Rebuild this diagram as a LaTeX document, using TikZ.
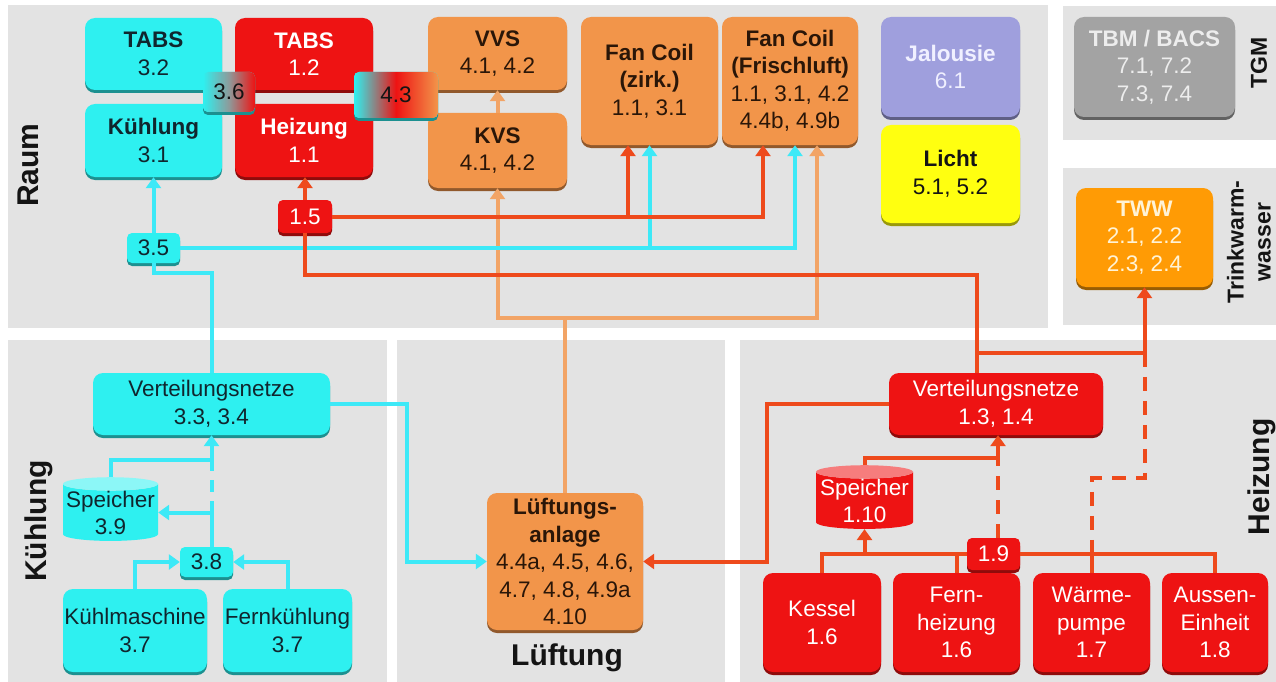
\documentclass[tikz,border=0pt]{standalone}
\usepackage{fontspec}
\setmainfont{Liberation Sans}
\usetikzlibrary{arrows.meta,shapes.geometric,shadows,calc}
\definecolor{ink}{HTML}{141414}
\definecolor{inkC}{HTML}{10262E}
\definecolor{inkV}{HTML}{2A1608}
\definecolor{panelG}{HTML}{E3E3E3}
\definecolor{cool}{HTML}{2EF0F0}
\definecolor{coolLine}{HTML}{3DE9F7}
\definecolor{heat}{HTML}{EE1313}
\definecolor{heatLine}{HTML}{EE4A1C}
\definecolor{vent}{HTML}{F2954A}
\definecolor{ventLine}{HTML}{F2A466}
\definecolor{tww}{HTML}{FF9B05}
\definecolor{twwT}{HTML}{FFF3D6}
\definecolor{jal}{HTML}{9F9FDD}
\definecolor{jalT}{HTML}{F0F0FF}
\definecolor{licht}{HTML}{FFFF10}
\definecolor{tgm}{HTML}{A3A3A3}
\definecolor{tgmT}{HTML}{EDEDED}
\definecolor{mixGrey}{HTML}{8E9A9A}
\tikzset{
  panel/.style={fill=panelG},
  blk/.style={fill=#1, rounded corners=10pt, inner sep=0pt, align=center,
    general shadow={fill=#1!60!black, shadow yshift=-3pt},
    font=\fontsize{22.5}{27.5}\selectfont},
  tag/.style={blk=#1, rounded corners=5pt},
  sz/.style 2 args={minimum width=#1, minimum height=#2},
  cyl/.style={cylinder, shape border rotate=90, aspect=0.15, cylinder uses custom fill,
    cylinder body fill=#1, cylinder end fill=#1!55!white, inner sep=0pt, align=center,
    font=\fontsize{22.5}{27}\selectfont},
  coolflow/.style={draw=coolLine, line width=4pt},
  heatflow/.style={draw=heatLine, line width=4pt},
  ventflow/.style={draw=ventLine, line width=4pt},
  heatdash/.style={dash pattern=on 14pt off 10pt},
  headed/.style={-{Triangle[length=11pt,width=15pt]}},
  side/.style={font=\fontsize{30}{34}\selectfont\bfseries, text=ink, inner sep=0pt},
  sidesm/.style={font=\fontsize{23}{27}\selectfont\bfseries, text=ink, inner sep=0pt},
}
\begin{document}
\begin{tikzpicture}[x=1pt, y=-1pt]
  \useasboundingbox[fill=white] (0,0) rectangle (1276,682);
  \fill[panel] (8,5) rectangle (1048,328);
  \fill[panel] (1063,6) rectangle (1276,140);
  \fill[panel] (1063,168) rectangle (1276,325);
  \fill[panel] (8,340) rectangle (387,682);
  \fill[panel] (397,340) rectangle (725,682);
  \fill[panel] (740,340) rectangle (1276,682);

  \node[side, rotate=90] (lRaum) at (28,165) {Raum};
  \node[side, rotate=90] (lKuehl) at (39,521) {Kühlung};
  \node[side] (lLueft) at (567,658) {Lüftung};
  \node[side, rotate=90] (lHeiz) at (1262,477) {Heizung};
  \node[sidesm, rotate=90] (lTGM) at (1259,63) {TGM};
  \node[sidesm, rotate=90, align=center] (lTWW) at (1249,242) {Trinkwarm-\\wasser};

  % room
  \node[blk=cool, sz={137}{72}, text=inkC] (tabsK) at (153.5,54) {{\bfseries TABS}\\3.2};
  \node[blk=cool, sz={137}{73}, text=inkC] (kuehl) at (153.5,140.5) {{\bfseries Kühlung}\\3.1};
  \node[blk=heat, sz={138}{72}, text=white] (tabsH) at (304,54) {{\bfseries TABS}\\1.2};
  \node[blk=heat, sz={138}{73}, text=white] (heiz) at (304,140.5) {{\bfseries Heizung}\\1.1};
  \node[tag=cool, left color=cool, right color=heat, middle color=mixGrey, sz={52}{40}, text=ink] (n36) at (229,92) {3.6};
  \node[blk=vent, sz={139}{73}, text=inkV] (vvs) at (497.5,53.5) {{\bfseries VVS}\\4.1, 4.2};
  \node[blk=vent, sz={139}{75}, text=inkV] (kvs) at (497.5,150.5) {{\bfseries KVS}\\4.1, 4.2};
  \node[tag=cool, left color=cool, right color=vent, middle color=heat, sz={84}{46}, text=ink] (n43) at (396,95) {4.3};
  \node[blk=vent, sz={137}{128}, text=inkV] (fcz) at (649.5,81) {{\bfseries Fan Coil}\\{\bfseries (zirk.)}\\1.1, 3.1};
  \node[blk=vent, sz={136}{128}, text=inkV] (fcf) at (790,81) {{\bfseries Fan Coil}\\{\bfseries (Frischluft)}\\1.1, 3.1, 4.2\\4.4b, 4.9b};
  \node[blk=jal, sz={139}{100}, text=jalT] (jal) at (950.5,67) {{\bfseries Jalousie}\\6.1};
  \node[blk=licht, sz={139}{98}, text=ink] (licht) at (950.5,174) {{\bfseries Licht}\\5.1, 5.2};
  \node[blk=tgm, sz={161}{100}, text=tgmT] (tbm) at (1154.5,67) {{\bfseries TBM / BACS}\\7.1, 7.2\\7.3, 7.4};
  \node[blk=tww, sz={137}{99}, text=twwT] (tww) at (1144.5,237.5) {{\bfseries TWW}\\2.1, 2.2\\2.3, 2.4};
  \node[tag=heat, sz={54}{33}, text=white] (n15) at (305,216.5) {1.5};
  \node[tag=cool, sz={53}{30}, text=inkC] (n35) at (153.5,248) {3.5};

  % cooling plant
  \node[blk=cool, sz={237}{62}, text=inkC] (vnK) at (211.5,404) {Verteilungsnetze\\3.3, 3.4};
  \node[cyl=cool, sz={95}{61}, text=inkC] (spK) at (110.5,512.5) {Speicher\\3.9};
  \node[tag=cool, sz={53}{30}, text=inkC] (n38) at (206.5,562) {3.8};
  \node[blk=cool, sz={144}{83}, text=inkC] (kmasch) at (135,630.5) {Kühlmaschine\\3.7};
  \node[blk=cool, sz={129}{83}, text=inkC] (fernk) at (287.5,630.5) {Fernkühlung\\3.7};

  % ventilation
  \node[blk=vent, sz={156}{137}, text=inkV] (lueft) at (565,561.5) {{\bfseries Lüftungs-}\\{\bfseries anlage}\\4.4a, 4.5, 4.6,\\4.7, 4.8, 4.9a\\4.10};

  % heating plant
  \node[blk=heat, sz={214}{62}, text=white] (vnH) at (996,404) {Verteilungsnetze\\1.3, 1.4};
  \node[cyl=heat, sz={97}{63}, text=white] (spH) at (864.5,500.5) {Speicher\\1.10};
  \node[tag=heat, sz={53}{32}, text=white] (n19) at (993.5,554) {1.9};
  \foreach \nm/\cx/\w/\txt in {kessel/822/118/{Kessel\\1.6}, fernh/956.5/127/{Fern-\\heizung\\1.6},
      wp/1091.5/117/{Wärme-\\pumpe\\1.7}, aussen/1215/106/{Aussen-\\Einheit\\1.8}}
    \node[blk=heat, sz={\w}{99}, text=white] (\nm) at (\cx,622.5) {\txt};

  % taps under the fan coils
  \coordinate (fczH) at ($(fcz.south)+(-21.5,0)$);
  \coordinate (fczK) at (fcz.south);
  \coordinate (fcfH) at ($(fcf.south)+(-27,0)$);
  \coordinate (fcfK) at ($(fcf.south)+(5,0)$);
  \coordinate (fcfL) at ($(fcf.south)+(27,0)$);

  \coordinate (vbus) at ($(lueft.north)+(0,-175)$);
  \draw[ventflow] (lueft.north) -- (vbus);
  \draw[ventflow, headed] (vbus) -| (kvs.south);
  \draw[ventflow, headed] (vbus) -| (fcfL);
  \draw[ventflow, headed] (kvs.north) -- (vvs.south);

  \draw[coolflow, headed] (n35.north) -- (kuehl.south);
  \draw[coolflow, headed] (n35.east) -| (fcfK);
  \draw[coolflow, headed] (fczK |- n35.east) -- (fczK);
  \draw[coolflow] (n35.south) -- ++(0,10) -| (vnK.north);
  \coordinate (kL) at ($(vnK.east)+(77,0)$);
  \draw[coolflow, headed] (vnK.east) -- (kL) |- (lueft.west);
  \coordinate (kS) at ($(vnK.south)+(0,25)$);
  \draw[coolflow, headed] (spK.north) |- (kS) -- (vnK.south);
  \draw[coolflow, dash pattern=on 12pt off 9pt] (vnK.south |- spK.east) -- (kS);
  \draw[coolflow, headed] (vnK.south |- n38.north) |- (spK.east);
  \draw[coolflow, headed] (kmasch.north) |- (n38.west);
  \draw[coolflow, headed] (fernk.north) |- (n38.east);

  \draw[heatflow, headed] (n15.north) -- (n15.north |- heiz.south);
  \draw[heatflow, headed] (n15.east) -| (fcfH);
  \draw[heatflow, headed] (fczH |- n15.east) -- (fczH);
  \coordinate (vnHtop) at ($(vnH.north)+(-19,0)$);
  \draw[heatflow] (n15.south) -- ++(0,42) -| (vnHtop);
  \coordinate (twwJ) at ($(vnHtop)+(0,-20)$);
  \draw[heatflow, headed] (twwJ) -| (tww.south);
  \coordinate (wpD) at ($(wp.north)+(0,-95)$);
  \draw[heatflow, heatdash] (twwJ -| tww.south) |- (wpD) -- (wp.north |- n19.west);
  \coordinate (hL) at ($(vnH.west)+(-122,0)$);
  \draw[heatflow, headed] (vnH.west) -- (hL) |- (lueft.east);
  \coordinate (vnHin) at ($(vnH.south)+(2,0)$);
  \coordinate (hS) at ($(vnHin)+(0,23)$);
  \draw[heatflow, headed] (spH.north) |- (hS) -- (vnHin);
  \draw[heatflow, heatdash] (vnHin |- n19.north) -- (hS);
  \draw[heatflow] (kessel.north) |- (n19.west);
  \draw[heatflow] (n19.east) -| (aussen.north);
  \draw[heatflow] (fernh.north) -- (fernh.north |- n19.west);
  \draw[heatflow] (wp.north) -- (wp.north |- n19.west);
  \draw[heatflow, headed] (spH.south |- n19.west) -- (spH.south);
\end{tikzpicture}
\end{document}
